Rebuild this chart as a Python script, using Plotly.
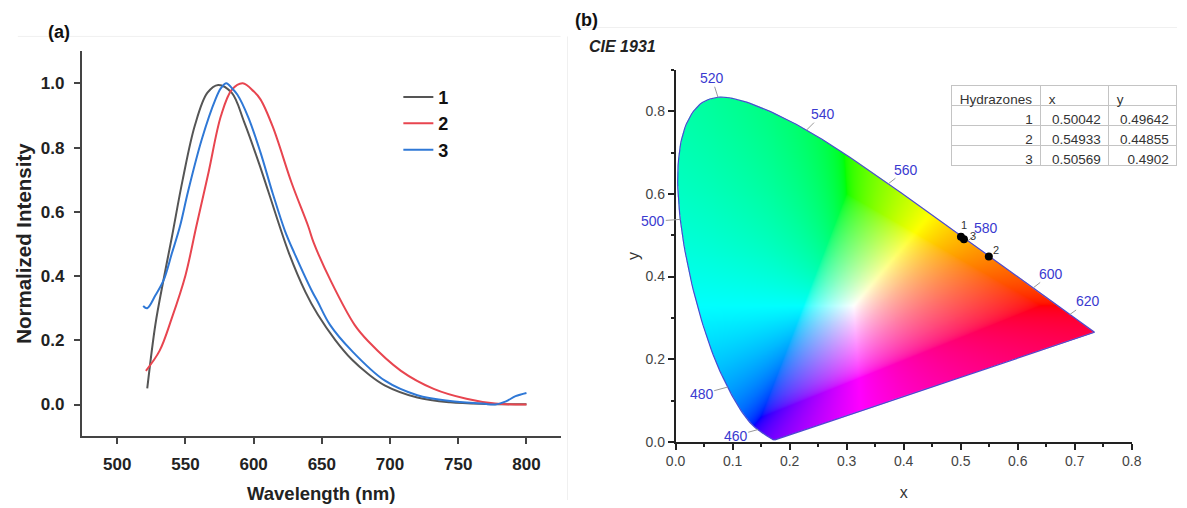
import base64
import struct
import zlib

import numpy as np
import plotly.graph_objects as go

W, H = 1187, 508

# ---------------- (a) normalized emission spectra ----------------
series_names = ["1", "2", "3"]
series_colors = ["#555555", "#e8454f", "#2f78d6"]

wl_1 = [522, 528, 534, 540, 548, 557, 566, 574, 584, 593, 604, 611, 626, 638,
        647, 660, 672, 684, 696, 720, 744, 770, 800]
int_1 = [0.05, 0.25, 0.39, 0.52, 0.70, 0.87, 0.97, 0.995, 0.97, 0.88, 0.75, 0.66,
         0.47, 0.35, 0.28, 0.20, 0.14, 0.095, 0.06, 0.022, 0.007, 0.002, 0.001]

wl_2 = [521, 531, 540, 550, 558, 567, 576, 584, 592, 600, 605, 614, 628, 640,
        644, 657, 674, 684, 708, 732, 756, 777, 800]
int_2 = [0.105, 0.167, 0.269, 0.402, 0.555, 0.724, 0.898, 0.98, 1.0, 0.975, 0.95,
         0.865, 0.688, 0.555, 0.504, 0.381, 0.248, 0.197, 0.105, 0.049, 0.018,
         0.003, 0.0]

wl_3 = [519, 522, 528, 534, 540, 546, 552, 562, 572, 576, 580, 584, 588, 596,
        605, 614, 623, 630, 643, 647, 656, 672, 696, 720, 744, 768, 777, 785,
        792, 800]
int_3 = [0.307, 0.30, 0.34, 0.387, 0.47, 0.555, 0.665, 0.826, 0.95, 0.985, 1.0,
         0.985, 0.965, 0.895, 0.785, 0.657, 0.54, 0.47, 0.351, 0.32, 0.248,
         0.167, 0.075, 0.029, 0.011, 0.003, 0.0, 0.01, 0.026, 0.036]

wl_ticks = [500, 550, 600, 650, 700, 750, 800]
int_ticks = [0.0, 0.2, 0.4, 0.6, 0.8, 1.0]

# ---------------- (b) CIE 1931 chromaticity ----------------
hydrazones = [1, 2, 3]
cie_x = [0.50042, 0.54933, 0.50569]
cie_y = [0.49642, 0.44855, 0.4902]

# CIE 1931 2-degree spectral locus, 380-700 nm in 5 nm steps
locus_nm = list(range(380, 705, 5))
locus_x = [0.1741, 0.1740, 0.1738, 0.1736, 0.1733, 0.1730, 0.1726, 0.1721, 0.1714,
           0.1703, 0.1689, 0.1669, 0.1644, 0.1611, 0.1566, 0.1510, 0.1440, 0.1355,
           0.1241, 0.1096, 0.0913, 0.0687, 0.0454, 0.0235, 0.0082, 0.0039, 0.0139,
           0.0389, 0.0743, 0.1142, 0.1547, 0.1929, 0.2296, 0.2658, 0.3016, 0.3373,
           0.3731, 0.4087, 0.4441, 0.4788, 0.5125, 0.5448, 0.5752, 0.6029, 0.6270,
           0.6482, 0.6658, 0.6801, 0.6915, 0.7006, 0.7079, 0.7140, 0.7190, 0.7230,
           0.7260, 0.7283, 0.7300, 0.7311, 0.7320, 0.7327, 0.7334, 0.7340, 0.7344,
           0.7346, 0.7347]
locus_y = [0.0050, 0.0050, 0.0049, 0.0049, 0.0048, 0.0048, 0.0048, 0.0048, 0.0051,
           0.0058, 0.0069, 0.0086, 0.0109, 0.0138, 0.0177, 0.0227, 0.0297, 0.0399,
           0.0578, 0.0868, 0.1327, 0.2007, 0.2950, 0.4127, 0.5384, 0.6548, 0.7502,
           0.8120, 0.8338, 0.8262, 0.8059, 0.7816, 0.7543, 0.7243, 0.6923, 0.6589,
           0.6245, 0.5896, 0.5547, 0.5202, 0.4866, 0.4544, 0.4242, 0.3965, 0.3725,
           0.3514, 0.3340, 0.3197, 0.3083, 0.2993, 0.2920, 0.2859, 0.2809, 0.2770,
           0.2740, 0.2717, 0.2700, 0.2689, 0.2680, 0.2673, 0.2666, 0.2660, 0.2656,
           0.2654, 0.2653]
marked_nm = [460, 480, 500, 520, 540, 560, 580, 600, 620]
cie_ticks_x = [0.0, 0.1, 0.2, 0.3, 0.4, 0.5, 0.6, 0.7, 0.8]
cie_ticks_y = [0.0, 0.2, 0.4, 0.6, 0.8]

FONT = "Arial, Liberation Sans"


def fx(p):
    return p / W


def fy(p):
    return 1 - p / H


def catmull_rom(xs, ys, sub=8):
    """Smooth open curve through the given points (uniform Catmull-Rom)."""
    p = np.column_stack([xs, ys]).astype(float)
    p = np.vstack([2 * p[0] - p[1], p, 2 * p[-1] - p[-2]])
    out = []
    t = np.linspace(0, 1, sub, endpoint=False)[:, None]
    for i in range(1, len(p) - 2):
        p0, p1, p2, p3 = p[i - 1], p[i], p[i + 1], p[i + 2]
        seg = 0.5 * ((2 * p1) + (-p0 + p2) * t + (2 * p0 - 5 * p1 + 4 * p2 - p3) * t ** 2
                     + (-p0 + 3 * p1 - 3 * p2 + p3) * t ** 3)
        out.append(seg)
    out.append(p[-2][None, :])
    c = np.vstack(out)
    return c[:, 0], c[:, 1]


# smooth horseshoe (spectral locus closed by the line of purples)
hs_x, hs_y = catmull_rom(locus_x, locus_y)


# ---- chromaticity fill rendered as an RGBA bitmap ----
def chromaticity_png(x_max, y_max, nx, ny):
    xs = (np.arange(nx) + 0.5) * x_max / nx
    ys = y_max - (np.arange(ny) + 0.5) * y_max / ny
    gx, gy = np.meshgrid(xs, ys)

    vx, vy = hs_x, hs_y
    inside = np.zeros(gx.shape, dtype=bool)
    n = len(vx)
    with np.errstate(divide="ignore", invalid="ignore"):
        for k in range(n):
            x1, y1 = vx[k], vy[k]
            x2, y2 = vx[(k + 1) % n], vy[(k + 1) % n]
            if y2 == y1:
                continue
            cross = (y1 > gy) != (y2 > gy)
            xint = x1 + (gy - y1) * (x2 - x1) / (y2 - y1)
            inside ^= cross & (gx < xint)

    yy = np.clip(gy, 1e-4, None)
    X = gx / yy
    Y = np.ones_like(gx)
    Z = (1 - gx - gy) / yy
    r = 3.2406 * X - 1.5372 * Y - 0.4986 * Z
    g = -0.9689 * X + 1.8758 * Y + 0.0415 * Z
    b = 0.0557 * X - 0.2040 * Y + 1.0570 * Z
    rgb = np.stack([r, g, b], axis=-1)
    # bring out-of-gamut colours back by adding white, then normalise
    rgb = rgb - np.minimum(rgb.min(axis=-1, keepdims=True), 0)
    rgb /= np.clip(rgb.max(axis=-1, keepdims=True), 1e-9, None)
    rgb = np.clip(rgb, 0, 1) ** (1 / 1.8)
    rgba = np.zeros(gx.shape + (4,), dtype=np.uint8)
    rgba[..., :3] = np.clip(rgb * 255 + 0.5, 0, 255).astype(np.uint8)
    rgba[..., 3] = np.where(inside, 255, 0).astype(np.uint8)

    raw = b"".join(b"\x00" + rgba[i].tobytes() for i in range(ny))

    def chunk(tag, data):
        return (struct.pack(">I", len(data)) + tag + data
                + struct.pack(">I", zlib.crc32(tag + data) & 0xFFFFFFFF))

    png = (b"\x89PNG\r\n\x1a\n"
           + chunk(b"IHDR", struct.pack(">IIBBBBB", nx, ny, 8, 6, 0, 0, 0))
           + chunk(b"IDAT", zlib.compress(raw, 9))
           + chunk(b"IEND", b""))
    return "data:image/png;base64," + base64.b64encode(png).decode()


FILL_X, FILL_Y = 0.74, 0.84
fill_src = chromaticity_png(FILL_X, FILL_Y, 858, 706)

fig = go.Figure()

for name, color, wl, inten in zip(series_names, series_colors,
                                  [wl_1, wl_2, wl_3], [int_1, int_2, int_3]):
    fig.add_trace(go.Scatter(
        x=wl, y=inten, mode="lines", name=name,
        line=dict(color=color, width=2, shape="spline", smoothing=1.0),
        xaxis="x", yaxis="y", showlegend=True,
    ))

fig.add_trace(go.Scatter(
    x=np.append(hs_x, hs_x[0]), y=np.append(hs_y, hs_y[0]), mode="lines",
    line=dict(color="#4a4ad0", width=1.2), xaxis="x2", yaxis="y2",
    showlegend=False, hoverinfo="skip",
))
fig.add_trace(go.Scatter(
    x=cie_x, y=cie_y, mode="markers", marker=dict(color="black", size=8),
    xaxis="x2", yaxis="y2", showlegend=False,
))

table_font = dict(family=FONT, size=13.5, color="#333")
fig.add_trace(go.Table(
    domain=dict(x=[fx(958), 1.0], y=[fy(180), fy(87)]),
    columnwidth=[94, 72, 72],
    header=dict(values=["Hydrazones", "x", "y"], align="left", height=20,
                fill_color="white", line=dict(color="#c4c4c4", width=1),
                font=table_font),
    cells=dict(values=[hydrazones, cie_x, cie_y], align="right", height=20,
               fill_color="white", line=dict(color="#c4c4c4", width=1),
               font=table_font),
))

bold_font = dict(family=FONT, size=17, color="#222", weight="bold")
cie_font = dict(family=FONT, size=14, color="#444")

annotations = [
    dict(text="<b>(a)</b>", x=fx(50), y=fy(33), xref="paper", yref="paper",
         xanchor="center", yanchor="middle", showarrow=False,
         font=dict(family=FONT, size=18, color="#111")),
    dict(text="<b>(b)</b>", x=fx(586), y=fy(20), xref="paper", yref="paper",
         xanchor="center", yanchor="middle", showarrow=False,
         font=dict(family=FONT, size=18, color="#111")),
    dict(text="<b><i>CIE 1931</i></b>", x=fx(623), y=fy(47), xref="paper", yref="paper",
         xanchor="center", yanchor="middle", showarrow=False,
         font=dict(family=FONT, size=16, color="#222")),
]

# wavelength marks along the locus
label_offsets = {460: (-22, 6), 480: (-26, 7), 500: (-27, 2), 520: (-6, -19),
                 540: (16, -16), 560: (18, -14), 580: (18, -13), 600: (18, -14),
                 620: (18, -13)}
for nm in marked_nm:
    k = locus_nm.index(nm)
    ax_, ay_ = label_offsets[nm]
    annotations.append(dict(
        x=locus_x[k], y=locus_y[k], xref="x2", yref="y2", text=str(nm),
        showarrow=True, arrowhead=0, arrowwidth=1, arrowcolor="#9a9a9a",
        ax=ax_, ay=ay_, font=dict(family=FONT, size=14, color="#3a3ad0"),
        borderpad=0,
    ))

point_shifts = [(3, 12), (7, 7), (9, 3)]
for h, px_, py_, (sx, sy) in zip(hydrazones, cie_x, cie_y, point_shifts):
    annotations.append(dict(
        x=px_, y=py_, xref="x2", yref="y2", text=str(h), showarrow=False,
        xshift=sx, yshift=sy, font=dict(family=FONT, size=11, color="#333"),
    ))

fig.update_layout(
    width=W, height=H,
    margin=dict(l=0, r=0, t=0, b=0),
    paper_bgcolor="white", plot_bgcolor="rgba(0,0,0,0)",
    font=dict(family=FONT),
    showlegend=True,
    legend=dict(x=fx(395), y=fy(80), xanchor="left", yanchor="top",
                bgcolor="rgba(0,0,0,0)", tracegroupgap=0,
                font=dict(family=FONT, size=18, color="#111", weight="bold")),
    xaxis=dict(domain=[fx(73), fx(560)], range=[474, 825], tickvals=wl_ticks,
               showgrid=False, zeroline=False, showline=True, linecolor="#444",
               linewidth=2, ticks="outside", ticklen=6, tickwidth=2, tickcolor="#444",
               tickfont=bold_font, anchor="y", ticklabelstandoff=6,
               title=dict(text="Wavelength (nm)", standoff=14,
                          font=dict(family=FONT, size=18.5, color="#222", weight="bold"))),
    yaxis=dict(domain=[fy(443), fy(52)], range=[-0.098, 1.1], tickvals=int_ticks,
               tickformat=".1f", showgrid=False, zeroline=False, showline=True,
               linecolor="#444", linewidth=2, ticks="outside", ticklen=6, tickwidth=2,
               tickcolor="#444", tickfont=bold_font, anchor="x", ticklabelstandoff=6,
               title=dict(text="Normalized Intensity", standoff=4,
                          font=dict(family=FONT, size=20.5, color="#222", weight="bold"))),
    xaxis2=dict(domain=[fx(677), fx(1141)], range=[0, 0.8], tickvals=cie_ticks_x,
                tickformat=".1f", showgrid=False, zeroline=False, showline=True,
                linecolor="#222", linewidth=1.5, ticks="outside", ticklen=6,
                tickwidth=1.5, tickcolor="#222", tickfont=cie_font, anchor="y2",
                minor=dict(ticks="outside", ticklen=3, tickwidth=1.5, tickcolor="#222",
                           dtick=0.05, tick0=0),
                title=dict(text="x", standoff=18,
                           font=dict(family=FONT, size=16, color="#333"))),
    yaxis2=dict(domain=[fy(449), fy(71)], range=[0, 0.9], tickvals=cie_ticks_y,
                tickformat=".1f", showgrid=False, zeroline=False, showline=True,
                linecolor="#222", linewidth=1.5, ticks="outside", ticklen=6,
                tickwidth=1.5, tickcolor="#222", tickfont=cie_font, anchor="x2",
                minor=dict(ticks="outside", ticklen=3, tickwidth=1.5, tickcolor="#222",
                           dtick=0.1, tick0=0),
                title=dict(text="y", standoff=2,
                           font=dict(family=FONT, size=16, color="#333"))),
    images=[dict(source=fill_src, xref="x2", yref="y2", x=0, y=FILL_Y,
                 sizex=FILL_X, sizey=FILL_Y, sizing="stretch", xanchor="left",
                 yanchor="top", layer="below")],
    annotations=annotations,
    shapes=[
        dict(type="line", xref="paper", yref="paper", x0=fx(8), x1=fx(560),
             y0=fy(37), y1=fy(37), line=dict(color="#f0f0f0", width=1)),
        dict(type="line", xref="paper", yref="paper", x0=fx(575), x1=1,
             y0=fy(28), y1=fy(28), line=dict(color="#f0f0f0", width=1)),
        dict(type="line", xref="paper", yref="paper", x0=fx(567), x1=fx(567),
             y0=0, y1=fy(37), line=dict(color="#f0f0f0", width=1)),
    ],
)

fig.write_html("out.html")
